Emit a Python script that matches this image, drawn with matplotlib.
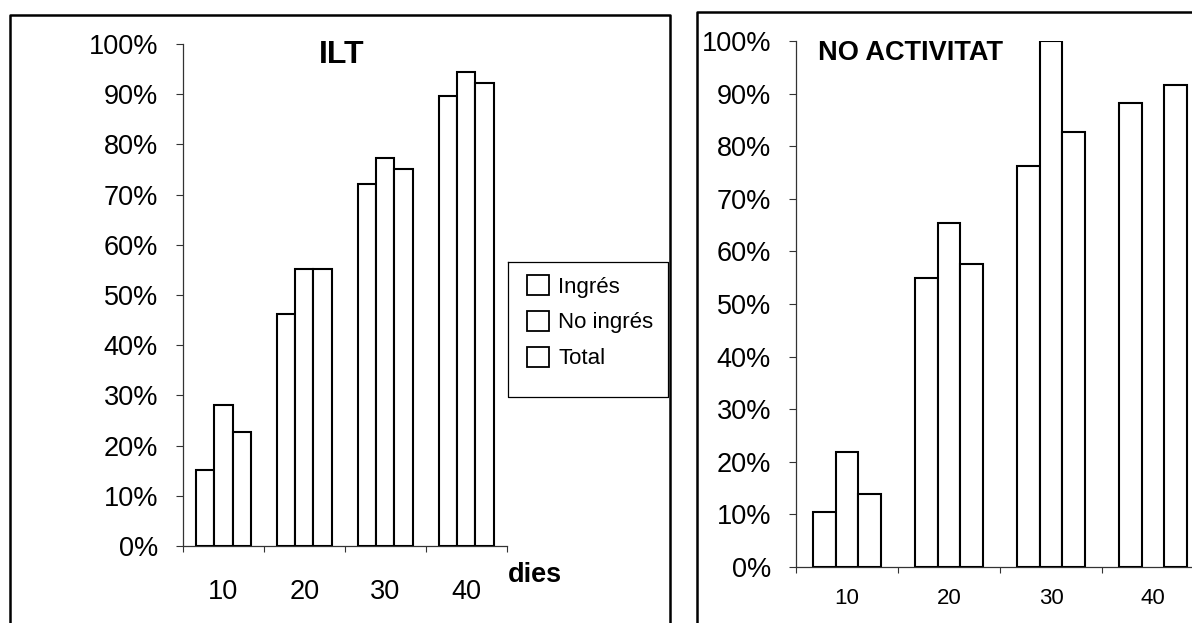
import numpy as np
import matplotlib
matplotlib.use("Agg")
from matplotlib import pyplot as plt
from matplotlib import font_manager
from matplotlib.patches import Patch
from matplotlib.lines import Line2D

# data (percentages)
dies = ['10', '20', '30', '40']
series = ['Ingrés', 'No ingrés', 'Total']

ilt_ingres = [15.1, 46.3, 72.1, 89.7]
ilt_no_ingres = [28.1, 55.1, 77.3, 94.5]
ilt_total = [22.8, 55.1, 75.1, 92.3]

noact_ingres = [10.5, 55.0, 76.2, 88.3]
noact_no_ingres = [21.8, 65.4, 100.0, np.nan]
noact_total = [13.9, 57.6, 82.7, 91.7]

y_ticks = [0, 10, 20, 30, 40, 50, 60, 70, 80, 90, 100]

plt.rcParams['font.family'] = ['Liberation Sans', 'DejaVu Sans']
names = {f.name for f in font_manager.fontManager.ttflist}
narrow = 'Liberation Sans Narrow' if 'Liberation Sans Narrow' in names else 'Liberation Sans'

W, H = 1192, 623
fig = plt.figure(figsize=(W / 100, H / 100), dpi=100)


def px(x0, y0, x1, y1):
    # pixel box (top-left origin) -> figure fraction rect
    return [x0 / W, 1 - y1 / H, (x1 - x0) / W, (y1 - y0) / H]


def bar_panel(ax, groups, xlabsize, xpad):
    bw = 0.225
    for j, vals in enumerate(groups):
        xs = np.arange(len(dies)) + 0.5 + (j - 1) * bw
        v = np.array(vals) / 100.0
        ok = ~np.isnan(v)
        ax.bar(xs[ok], v[ok], width=bw, color='white', edgecolor='black',
               linewidth=1.5, zorder=3)
    ax.set_xlim(0, 4)
    ax.set_ylim(0, 1)
    for s in ['top', 'right']:
        ax.spines[s].set_visible(False)
    for s in ['left', 'bottom']:
        ax.spines[s].set_color('#333333')
        ax.spines[s].set_linewidth(0.9)
    ax.set_yticks(np.array(y_ticks) / 100.0)
    ax.set_yticklabels([f'{t}%' for t in y_ticks])
    ax.tick_params(axis='y', direction='out', length=5, width=0.8,
                   color='#333333', labelsize=19.5, pad=13)
    ax.set_xticks(np.arange(len(dies)) + 0.5)
    ax.set_xticklabels(dies)
    ax.set_xticks(np.arange(len(dies) + 1), minor=True)
    ax.tick_params(axis='x', which='major', length=0, labelsize=xlabsize, pad=xpad)
    ax.tick_params(axis='x', which='minor', direction='out', length=4.5,
                   width=0.8, color='#333333')


ax1 = fig.add_axes(px(183, 44, 506.7, 546))
bar_panel(ax1, [ilt_ingres, ilt_no_ingres, ilt_total], 19.5, 24)

ax2 = fig.add_axes(px(796, 41, 1204, 567))
bar_panel(ax2, [noact_ingres, noact_no_ingres, noact_total], 16, 15)

# titles and axis word
fig.text(342 / W, 1 - 55 / H, 'ILT', ha='center', va='center',
         fontsize=23, fontweight='bold')
fig.text(911 / W, 1 - 53 / H, 'NO ACTIVITAT', ha='center', va='center',
         fontsize=19.5, fontweight='bold')
fig.text(535 / W, 1 - 575 / H, 'dies', ha='center', va='center',
         fontsize=19.5, fontweight='bold')

# panel frames (cut off at the bottom / right edge)
def fig_line(xs, ys, lw=1.8):
    fig.add_artist(Line2D([x / W for x in xs], [1 - y / H for y in ys],
                          color='black', linewidth=lw))

fig_line([10, 10, 670, 670], [H + 5, 15, 15, H + 5])
fig_line([697, 697, W + 5], [H + 5, 12, 12])

# legend box
fig_line([508, 508, 668, 668, 508], [262, 397, 397, 262, 262], lw=0.9)
handles = [Patch(facecolor='white', edgecolor='black', linewidth=1.3) for _ in series]
fig.legend(handles, series, loc='upper left',
           bbox_to_anchor=(527 / W, 1 - 275 / H), frameon=False,
           borderpad=0, borderaxespad=0, handlelength=1.0, handleheight=1.0,
           handletextpad=0.4, labelspacing=0.6,
           prop={'family': narrow, 'size': 16})

fig.savefig('out.png', dpi=100, facecolor='white')
